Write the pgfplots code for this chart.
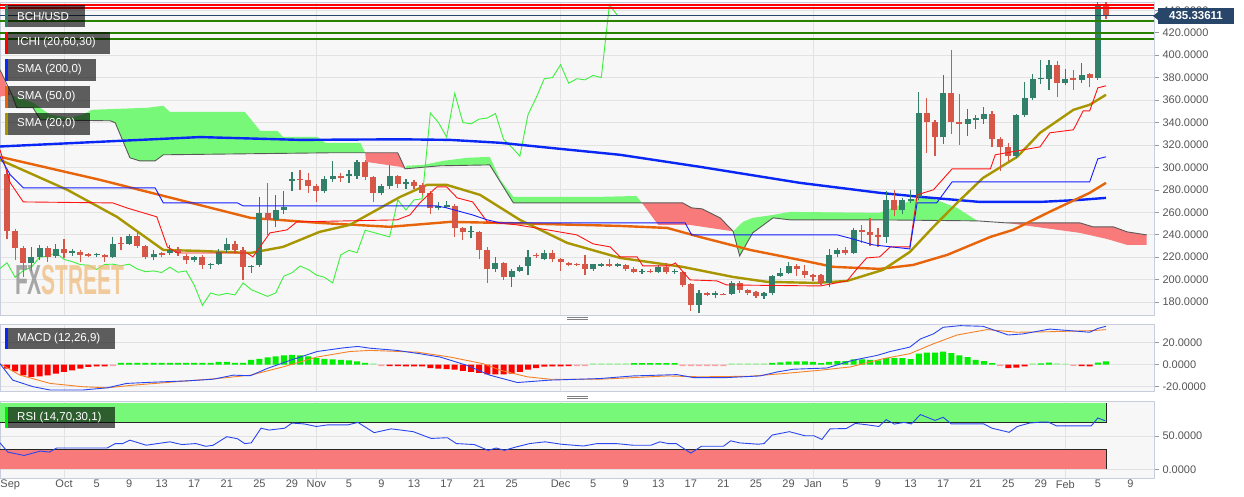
\documentclass[border=0pt]{standalone}
\usepackage{fontspec}
\setmainfont{Liberation Sans}
\usepackage{pgfplots}
\usepackage{pgfplotstable}
\pgfplotsset{compat=1.18}

\definecolor{panelbg}{RGB}{247,247,247}
\definecolor{gridc}{RGB}{226,226,226}
\definecolor{borderc}{RGB}{200,205,222}
\definecolor{lblc}{RGB}{85,85,85}
\definecolor{cup}{RGB}{50,128,106}
\definecolor{cdown}{RGB}{214,86,72}
\definecolor{cloudg}{RGB}{120,248,120}
\definecolor{cloudr}{RGB}{248,122,122}
\definecolor{smablue}{RGB}{10,40,245}
\definecolor{smaorange}{RGB}{232,100,10}
\definecolor{smaolive}{RGB}{168,150,0}
\definecolor{tenkan}{RGB}{255,20,20}
\definecolor{kijun}{RGB}{20,30,255}
\definecolor{chikou}{RGB}{60,240,60}
\definecolor{lvlgreen}{RGB}{40,130,0}
\definecolor{navy}{RGB}{40,70,105}
\definecolor{histg}{RGB}{0,238,0}
\definecolor{histr}{RGB}{255,0,0}
\definecolor{histlg}{RGB}{150,242,150}
\definecolor{histlr}{RGB}{255,160,160}
\definecolor{macdblue}{RGB}{40,70,240}
\definecolor{macdorange}{RGB}{245,130,40}
\definecolor{rsiblue}{RGB}{40,70,240}

% daily candles, d = days since 1 Oct
\pgfplotstableread{
d o h l c
-4 215 229 208 220
-3 220 231 217 228
-1 221 232 219 227
1 224 227 221 225.3
4 221.5 224 220 222.7
6 220 238 219 232
8 232 241 231 239
11 220 226 217 223
13 224 231 222 226
16 217 221 216 220
18 213 215 209 214.2
19 214 227 213 225
20 226 237 224 232
23 211 213 206 212.2
24 213 274 211 259
26 253 275 247 262
27 262 279 258 265
28 288 296 279 289.3
32 279 292 277 290
33 290 306 287 292
35 292 298 286 294
36 292 307 290 305
39 277 285 275 283
40 283 302 281 292
42 285 290 281 287
46 264 269 262 265.3
47 265 270 264 266.3
50 242 248 237 243.2
53 209 220 207 215
55 202 209 193 208
56 208 213 207 211
57 212 226 204 220
59 218 226 217 224
65 209 214 208 213.5
66 212.5 215 211 213.7
68 212.5 215 211 213.7
71 206.5 209 205 207.7
73 207 213 206 211
75 206.5 209 205 207.7
78 177 191 170 188
80 186.5 190 184 187.7
82 187 199 186 197
86 185 189 183 188
87 188 204 186 203
88 203 210 202 206
89 206 216 205 212
94 197 227 193 222
95 223 228 220 226
97 224 246 223 244
101 238 279 233 271
103 262 273 258 271
104 270 280 268 272
105 274 367 271 348.5
108 327 382 321 366
111 339 352 328 343
112 342 347 334 344
113 343 354 339 348
117 310 348 308 347
118 347 376 345 362
119 362 383 360 379
120 378.5 396 374 380
121 379 396 369 391.5
123 375 388 373 379
125 378 393 375 382
127 380 447 378 445
}\upc

\pgfplotstableread{
d o h l c
-7 294 297 236 243
-6 243 245 217 228
-5 228 230 202 215
-2 228 230 216 220
0 227 236 219 224
2 225 226 216 222
3 222.5 224 220 221.3
5 222 223 216 220
7 233 238 226 231.8
9 239 242 228 230
10 230 231 218 220
12 223.5 225 220 222.3
14 226 229 221 224
15 221 223 214 217
17 220 222 209 213
21 232 234 224 226
22 226 229 200 211
25 259 286 240 253
29 290 298 280 288.8
30 289 295 277 283
31 283 285 269 279
34 292 295 287 290.8
37 305 307 289 291
38 291 292 269 277
41 292 293 282 285
43 287 289 281 283
44 284 286 275 277
45 277 279 258 264
48 266 267 238 246
49 246 247 235 242
51 242 243 218 226
52 226 229 197 209
54 215 216 200 202
58 222 224 219 220.8
60 224 226 216 218
61 218 219 208 216
62 214.5 216 212 213.3
63 214 215 212 212.8
64 213.5 222 204 209
67 213.5 218 211 212.3
69 213 214 208 209.5
70 209 211 206 207
72 207.5 209 206 206.3
74 211 215 205 206.5
76 207 208 193 195
77 196 197 172 177
79 188 189 185 186
81 187.5 188 186 186.3
83 197 199 188 191
84 191 192 186 188
85 189 190 184 185
90 212 214 203 209
91 208 213 201 204
92 204 205 199 202
93 204 205 195 197
96 226 229 222 224
98 244 249 233 242
99 242 255 230 240
100 240 246 229 238
102 271 280 257 262
106 348.5 362 313 340
107 340 342 310 327
109 366 405 330 340
110 340 365 320 338.8
114 348 350 318 325
115 325 327 297 318
116 318 322 306 310
122 391.5 395 363 375
124 380 387 369 378
126 383 384 372 380
128 445 447.5 432 435.3
}\downc

% MACD histogram
\pgfplotstableread{
d v
7 1.6
8 1.6
9 1.6
10 1.6
11 1.6
12 1.6
13 1.6
14 1.6
15 1.6
16 1.6
17 1.6
18 1.6
19 2.5
20 2.5
21 1.6
22 1.6
23 4.5
24 5.4
25 6.6
26 7.5
27 8.4
28 9
29 8.4
30 7.5
31 6
32 5.4
33 4.8
34 4.5
35 3.9
36 3
37 1.6
70 1.5
71 1.5
72 1.5
73 1.5
74 1.5
75 1.5
87 1.6
88 2.2
89 2.7
90 3
91 3
92 2.5
93 1.5
94 2.5
95 3.3
96 3.3
97 4.8
98 4.8
99 4.5
100 3.9
101 6
102 6
103 6
104 5
105 10
106 11
107 11
108 12
109 10.5
110 8.4
111 7
112 4.5
113 3.3
114 1.5
120 1.2
121 1.8
127 1.8
128 3
}\histgreen

\pgfplotstableread{
d v
-7 -3.6
-6 -6
-5 -9.6
-4 -11
-3 -10.5
-2 -9.6
-1 -8.1
0 -6.6
1 -5.1
2 -3.6
3 -2
4 -1.5
5 -1.5
40 -1.2
41 -1.2
42 -1.5
43 -1.5
44 -1.5
45 -3
46 -3.5
47 -4
48 -4.5
49 -5.7
50 -6.6
51 -7.5
52 -8.7
53 -8.7
54 -8.7
55 -8
56 -6.6
57 -4.5
58 -3
59 -1.8
60 -1.5
61 -1.5
62 -1.2
116 -3
117 -2.7
118 -1.5
125 -1.2
126 -1.5
}\histred

\pgfplotstableread{
d v
38 1.2
65 1.2
66 1.2
67 1.2
68 1.2
69 1.2
82 1.2
83 1.2
84 1.2
85 1.2
86 1.2
119 1.2
122 1.2
123 1
}\histlgreen

\pgfplotstableread{
d v
6 -1.2
39 -1.2
63 -1.2
64 -1.2
76 -1.2
77 -1.2
78 -1.2
79 -1.2
80 -1.2
81 -1.2
115 -1.2
124 -1
}\histlred

\pgfplotsset{
  panel/.style={
    scale only axis, width=1154pt,
    xmin=-7.862, xmax=133.9,
    axis background/.style={fill=panelbg},
    axis line style={draw=borderc, line width=0.8pt},
    ymajorgrids, xmajorgrids,
    grid style={draw=gridc, line width=0.8pt},
    xtick={0,31,61,92,123}, xticklabels={},
    major x tick style={draw=none},
    ytick pos=right, yticklabel pos=right,
    tick align=outside, major tick length=5pt,
    major y tick style={draw=lblc!60, line width=0.6pt},
    yticklabel style={font=\fontsize{11}{12}\selectfont, text=lblc, anchor=west},
  },
  wick/.style={draw=none, mark=none, error bars/.cd, y dir=plus, y explicit, error mark=none,
    error bar style={draw=#1, line width=1.2pt, solid}},
  body/.style={draw=none, mark=none, error bars/.cd, y dir=plus, y explicit, error mark=none,
    error bar style={draw=#1, line width=6pt, line cap=butt, solid}},
}

\newcommand{\legbox}[5]{%
  \fill[black, fill opacity=0.62] (5,{496-#1}) rectangle (#2,{496-#1-#5});
  \fill[#3] (5,{496-#1}) rectangle (7.5,{496-#1-#5});
  \node[anchor=west, text=white, inner sep=0, font=\fontsize{11.5}{13}\selectfont] at (17,{496-#1-#5/2}) {#4};
}

\begin{document}
\begin{tikzpicture}[x=1pt,y=1pt]
\fill[white] (0,0) rectangle (1244,496);

% ---------------- price panel ----------------
\begin{axis}[panel, at={(0pt,181pt)}, anchor=south west, height=313pt,
  ymin=168.4, ymax=447.4,
  ytick={180,200,...,440},
  yticklabels={180.0000,200.0000,220.0000,240.0000,260.0000,280.0000,300.0000,320.0000,340.0000,360.0000,380.0000,400.0000,420.0000,440.0000},
]
% cloud
\addplot[fill=cloudr, draw=none] coordinates {(-7.862,387) (-6.6,364.7) (-7.862,363)};
\addplot[fill=cloudg, draw=none] coordinates {
 (-6.6,364.7) (-3.8,357.6) (-1.7,346.9) (0.7,344.2) (2.3,346.9) (3.4,351.3) (10.2,353.1)
 (12.2,354.9) (13,349.5) (22.2,349.5) (24.1,332.6) (26.2,332.6) (26.9,327.2) (31.1,327.2)
 (32.1,321.9) (36.4,321.9) (37,313) (32.7,313) (12.2,311.2) (11.2,305.8) (9.3,305.8)
 (8.1,308.5) (6.3,339.7) (5.7,341.5) (-2.9,342.4) (-3.8,353.1) (-5.8,353.1) (-6.4,364.7)};
\addplot[fill=cloudr, draw=none] coordinates {(37,313) (41,313) (41.9,298.7) (41.3,300.5) (37.1,304.9)};
\addplot[fill=cloudg, draw=none] coordinates {
 (41.9,298.7) (42.1,301.4) (44.1,302.2) (46.6,305.8) (49.5,308.5) (52.3,309.4) (53.6,288.9)
 (55.2,273.7) (65.8,273.7) (70.3,274.5) (71,268.3) (55.2,268.3) (52.3,302.2) (46.2,301.4)};
\addplot[fill=cloudr, draw=none] coordinates {
 (71,268.3) (76,268.3) (77.1,263.9) (78.4,263) (80.6,255) (82.2,243) (76.9,248.7) (73,248.7)};
\addplot[fill=cloudg, draw=none] coordinates {
 (82.2,243) (83.4,251.4) (84.6,255) (87.1,257.6) (89.2,260.3) (100.2,259.4) (102.7,266.6)
 (105.2,273.7) (106.8,271.9) (109.7,263.9) (112.2,252.3) (100.2,253.2) (89.2,253.2)
 (87.1,255) (84.6,241.6) (83,221.1)};
\addplot[fill=cloudr, draw=none] coordinates {
 (115.8,250.5) (124.8,250.5) (126.4,247) (128.9,247) (130.6,242.5) (133,239.8)
 (133,230.9) (130.6,230.9) (128.1,236.2) (124.8,241.6)};
% senkou span B
\addplot[black!65, line width=0.9pt] coordinates {
 (-7.862,387) (-6.4,364.7) (-5.8,353.1) (-3.8,353.1) (-2.9,342.4) (5.7,341.5) (6.3,339.7)
 (8.1,308.5) (9.3,305.8) (11.2,305.8) (12.2,311.2) (32.7,313) (41,313) (41.9,298.7)
 (46.2,301.4) (52.3,302.2) (55.2,268.3) (76,268.3) (77.1,263.9) (78.4,263) (80.6,255)
 (82.2,243) (83,221.1) (84.6,241.6) (87.1,255) (89.2,253.2) (100.2,253.2) (112.2,252.3)
 (115.8,250.5) (124.8,250.5) (126.4,247) (128.9,247) (130.6,242.5) (133,239.8)};
% chikou span
\addplot[chikou, line width=0.9pt] coordinates {
 (-8,209) (-7,215) (-6,202) (-5,208) (-4,211) (-3,220) (-2,220.8) (-1,224) (0,218) (1,216)
 (2,213.3) (3,212.8) (4,209) (5,213.5) (6,213.7) (7,212.3) (8,213.7) (9,209.5) (10,207)
 (11,207.7) (12,206.3) (13,211) (14,206.5) (15,207.7) (16,195) (17,177) (18,188) (19,186)
 (20,187.7) (21,186.3) (22,197) (23,191) (24,188) (25,185) (26,188) (27,203) (28,206)
 (29,212) (30,209) (31,204) (32,202) (33,197) (34,222) (35,226) (36,224) (37,244) (38,242)
 (39,240) (40,238) (41,271) (42,262) (43,271) (44,272) (45,348.5) (46,340) (47,327)
 (48,366) (49,340) (50,338.8) (51,343) (52,344) (53,348) (54,325) (55,318) (56,310)
 (57,347) (58,362) (59,379) (60,380) (61,391.5) (62,375) (63,379) (64,378) (65,382)
 (66,380) (67,445) (68,435.3)};
% moving averages
\addplot[smablue, line width=2.4pt] coordinates {
 (-7.862,318.6) (4.4,322.8) (16.7,327) (29,324.5) (41.3,325) (47.4,324.5) (53.6,321.9)
 (59.7,317.4) (68.3,311.2) (78.1,300.5) (90.4,286.2) (100.2,277.3) (105.2,273.7)
 (112.5,269.2) (119.9,269.2) (124.8,271) (128,272.8)};
\addplot[smaorange, line width=2.4pt] coordinates {
 (-7.862,309.4) (4.4,288.9) (12.7,273.7) (22.9,255) (31.4,250.5) (40,247) (47.4,251.4)
 (53.6,250.5) (68.3,247.8) (74.1,246) (78.1,238) (84.3,226.4) (90.4,217.5) (94.5,211.3)
 (100.2,209.5) (104.3,213) (108.5,222) (113.8,238) (116.6,244.3) (120.8,259.4) (126,277.3)
 (128,286.2)};
\addplot[smaolive, line width=2.4pt] coordinates {
 (-7.862,306.7) (0.4,280) (6.5,255.9) (12.2,226.4) (16.7,225.5) (22.9,223.7) (26.9,229.1)
 (31.4,242.5) (35.1,248.7) (41.3,273.7) (44.6,284.4) (47,284.4) (51.1,275.5) (56,253.2)
 (61.8,232.7) (68.3,219.3) (76,211.3) (82.2,202.3) (86.4,197.9) (92.5,197) (96.2,198.8)
 (100.6,208.6) (103.9,224.6) (106.8,247) (109.7,268.3) (112.9,290.6) (117.1,309.4)
 (119.9,330.8) (124,351.3) (126,355.8) (128,364.7)};
% candles: wicks then bodies
\addplot[wick=cup] table[x=d, y=l, y error expr=\thisrow{h}-\thisrow{l}] {\upc};
\addplot[wick=cdown] table[x=d, y=l, y error expr=\thisrow{h}-\thisrow{l}] {\downc};
\addplot[body=cup] table[x=d, y=o, y error expr=\thisrow{c}-\thisrow{o}] {\upc};
\addplot[body=cdown] table[x=d, y=c, y error expr=\thisrow{o}-\thisrow{c}] {\downc};
% tenkan and kijun
\addplot[tenkan, line width=0.9pt] coordinates {
 (-7.862,315.6) (-6.6,286.2) (-5,269.2) (6,268.3) (7.7,263.9) (11.4,255.9) (12.7,229.1)
 (13.9,223.7) (22.5,223.7) (23.2,220.2) (25.3,241.6) (27.4,244.3) (28.6,251.4) (40.9,253.2)
 (42.5,257.6) (43.7,268.3) (45.8,282.6) (47,282.6) (48.3,272.8) (50.2,269.2) (52,251.4)
 (55.7,248.7) (60.1,243.4) (63,239.8) (65,231.8) (67.1,229.1) (68.3,220.2) (70.4,220.2)
 (71.1,212.2) (74.4,212.2) (75.1,214.8) (76.9,199.7) (80.2,198.8) (81.4,195.2) (92.9,194.3)
 (96.2,198.8) (97.4,209.5) (98.6,219.3) (100.2,220.2) (101.5,229.1) (103.9,229.1)
 (104.8,275.5) (106.8,280) (109.1,298.7) (113.8,298.7) (114.4,311.2) (119.9,318.3)
 (121.1,330.8) (124,333.5) (125.2,350.4) (126,350.4) (127,370.9) (128,372.7)};
\addplot[kijun, line width=0.9pt] coordinates {
 (-7.862,309.4) (-6.6,293.3) (-5,281.7) (11.2,281.7) (12.2,268.3) (21.3,268.3) (22,265.7)
 (45.8,265.7) (47,263.9) (50.2,257.6) (52,253.2) (53.6,250.5) (76.3,250.5) (77.1,239.8)
 (95,239.8) (96.9,236.2) (99.4,230.9) (103.9,227.3) (104.8,268.3) (107.2,268.3)
 (109.1,287.1) (126,287.1) (127,307.6) (128,309.4)};
% horizontal levels
\addplot[red, line width=2pt] coordinates {(-7.862,445) (133.9,445)};
\addplot[red, line width=2pt] coordinates {(-7.862,442) (133.9,442)};
\addplot[navy, line width=0.8pt] coordinates {(-7.862,435.3) (133.9,435.3)};
\addplot[lvlgreen, line width=2pt] coordinates {(-7.862,430.7) (133.9,430.7)};
\addplot[lvlgreen, line width=2pt] coordinates {(-7.862,420) (133.9,420)};
\addplot[lvlgreen, line width=2pt] coordinates {(-7.862,414.1) (133.9,414.1)};
\end{axis}

% ---------------- MACD panel ----------------
\begin{axis}[panel, at={(0pt,105pt)}, anchor=south west, height=67pt,
  ymin=-23.9, ymax=37,
  ytick={-20,0,20}, yticklabels={-20.0000,0.0000,20.0000},
]
\addplot[ybar, bar width=6pt, bar shift=0pt, fill=histg, draw=none] table[x=d, y=v] {\histgreen};
\addplot[ybar, bar width=6pt, bar shift=0pt, fill=histr, draw=none] table[x=d, y=v] {\histred};
\addplot[ybar, bar width=6pt, bar shift=0pt, fill=histlg, draw=none] table[x=d, y=v] {\histlgreen};
\addplot[ybar, bar width=6pt, bar shift=0pt, fill=histlr, draw=none] table[x=d, y=v] {\histlred};
\addplot[macdorange, line width=0.9pt] coordinates {
 (-7.862,0.9) (-5.4,-9.5) (-1.7,-17) (2.3,-20) (5.3,-21) (8.5,-18.6) (14.6,-15) (18.8,-12.6)
 (22.9,-9.5) (26.9,-2) (31.1,7) (35.1,12) (37.6,13) (43.4,11.4) (47.4,7) (51.5,0.9)
 (53.6,-5) (56.9,-11) (59.7,-13.2) (65.8,-13.2) (74.1,-10.2) (78.1,-11) (84.3,-10.5)
 (88.3,-8.1) (92.9,-5) (96.6,-2) (100.6,5.4) (103.9,10) (106.8,19) (109.7,27) (113.4,31.9)
 (117.1,29.5) (121.1,30) (126.4,31) (128,31.9)};
\addplot[macdblue, line width=0.9pt] coordinates {
 (-7.862,0.9) (-6.3,-14) (-3.8,-20) (-1.7,-23) (2.3,-23) (5.3,-21) (7.7,-17) (10.6,-16)
 (15.1,-14.7) (18.3,-13.2) (20.8,-9.5) (22.9,-10) (24.9,-3.6) (27.8,4) (31.1,12) (34.3,15.3)
 (36.1,16.6) (37.6,15) (40.9,13) (43.7,10) (46.2,7) (49.5,-0.6) (52.3,-9.5) (55.7,-16.2)
 (59.7,-14) (65.8,-12.6) (69.9,-10.2) (75.3,-9) (77.3,-11.7) (81.4,-11.7) (85.5,-10.2)
 (87.6,-6.6) (89.6,-4.1) (93.7,-3) (96.9,4) (99.9,8.5) (101.5,12) (103.9,16) (105.2,23.4)
 (106.8,28) (108,34) (110.1,35.5) (112.9,34.9) (116,27) (117.8,28) (121.1,32.4) (126,29.5)
 (127,33) (128,34.9)};
\end{axis}

% ---------------- RSI panel ----------------
\begin{axis}[panel, at={(0pt,18pt)}, anchor=south west, height=77pt,
  ymin=-13.1, ymax=102.7,
  ytick={0,50}, yticklabels={0.0000,50.0000},
  xmajorgrids=false,
  xtick={-6.6,0,4,8,12,16,20,24,28,31,35,39,43,47,51,55,61,65,69,73,77,81,85,89,92,96,100,104,108,112,116,120,123,127,131},
  xticklabels={Sep,Oct,5,9,13,17,21,25,29,Nov,5,9,13,17,21,25,Dec,5,9,13,17,21,25,29,Jan,5,9,13,17,21,25,29,Feb,5,9},
  xticklabel style={font=\fontsize{11}{12}\selectfont, text=lblc, inner sep=1pt, yshift=4pt},
  extra x ticks={0,31,61,92,123}, extra x tick labels={},
  extra x tick style={grid=major},
]
\addplot[fill=cloudg, draw=none] coordinates {(-7.862,70) (128,70) (128,100) (-7.862,100)};
\addplot[fill=cloudr, draw=none] coordinates {(-7.862,0) (128,0) (128,30) (-7.862,30)};
\addplot[black!85, line width=0.8pt] coordinates {(-7.862,70) (128,70) (128,100)};
\addplot[black!85, line width=0.8pt] coordinates {(-7.862,30) (128,30) (128,0)};
\addplot[rsiblue, line width=0.9pt] coordinates {
 (-7.862,39.7) (-6.9,25.9) (-4.9,20.8) (-2.9,27.4) (-1.8,25.9) (-0.9,32) (1.8,32) (5.3,32)
 (6.3,38.7) (7.2,38.7) (8.1,43.8) (10.1,36.2) (11.5,38.7) (13,41.3) (14.5,37.2) (16.2,38.7)
 (17.4,34.6) (18.3,36) (20,49) (21.3,46) (22.2,38.7) (23,39.7) (24.2,61.8) (25.2,59)
 (27.1,61.8) (28,69.5) (29.5,68.2) (31,64.4) (32.4,66.8) (34.9,66.8) (36.1,70.5) (38.1,55.1)
 (40.2,60.8) (42.9,56.6) (45.1,46.4) (47.1,47.5) (48.2,38.7) (50.4,37.2) (52.1,28.5) (53.1,32)
 (54.1,28.5) (55.3,32.8) (57.2,38.7) (59.1,41.3) (61.1,37.7) (63.8,35) (65.5,38.7) (67.8,38.7)
 (69.9,36.2) (72.1,36.2) (73.2,41.3) (74.2,38.7) (75.2,38.7) (77,24.3) (78.3,34.6) (81,34.6)
 (81.9,42.8) (83,39.7) (85.3,37.7) (86,38.7) (87,51.5) (89.1,56.6) (91,50.5) (92.1,50.5)
 (93.1,44.9) (94.1,60.8) (96.1,61.3) (97.2,69) (98.6,67) (100.1,64.4) (101,74.6) (102,68)
 (103.2,70.5) (104.1,68.2) (105.2,82.3) (107,73.5) (108,78.2) (109,68.2) (113,68.2) (114,61.8)
 (116.1,55.6) (117.1,64.4) (118.6,69.5) (120,71) (120.9,71) (121.9,65.4) (123.8,65.4)
 (126.2,65.4) (127,77.2) (127.9,73)};
\end{axis}

% ---------------- decorations ----------------
\legbox{5}{85}{cup}{BCH/USD}{22}
\legbox{32}{110}{red}{ICHI (20,60,30)}{22}
\legbox{59}{96}{smablue}{SMA (200,0)}{22}
\legbox{86}{90}{smaorange}{SMA (50,0)}{22}
\legbox{113}{90}{smaolive}{SMA (20,0)}{22}
\legbox{328}{115}{smablue}{MACD (12,26,9)}{21}
\legbox{407}{115}{histg}{RSI (14,70,30,1)}{21}

\node[anchor=west, inner sep=0, xscale=0.5, opacity=0.75,
  font=\fontsize{42}{42}\bfseries\selectfont] at (15,216)
  {\textcolor{black!45}{FX}\textcolor[RGB]{240,188,125}{STREET}};

\fill[navy] (1158,472) rectangle (1234,488);
\fill[navy] (1153,480) -- (1158,484) -- (1158,476) -- cycle;
\node[text=white, inner sep=0, font=\bfseries\fontsize{11.5}{13}\selectfont] at (1196,480) {435.33611};

\draw[black!50, line width=0.8pt] (567,178.6) -- (588,178.6) (567,176.2) -- (588,176.2);
\draw[black!50, line width=0.8pt] (567,99.6) -- (588,99.6) (567,97.2) -- (588,97.2);

\pgfresetboundingbox
\useasboundingbox (0,0) rectangle (1244,496);
\end{tikzpicture}
\end{document}
